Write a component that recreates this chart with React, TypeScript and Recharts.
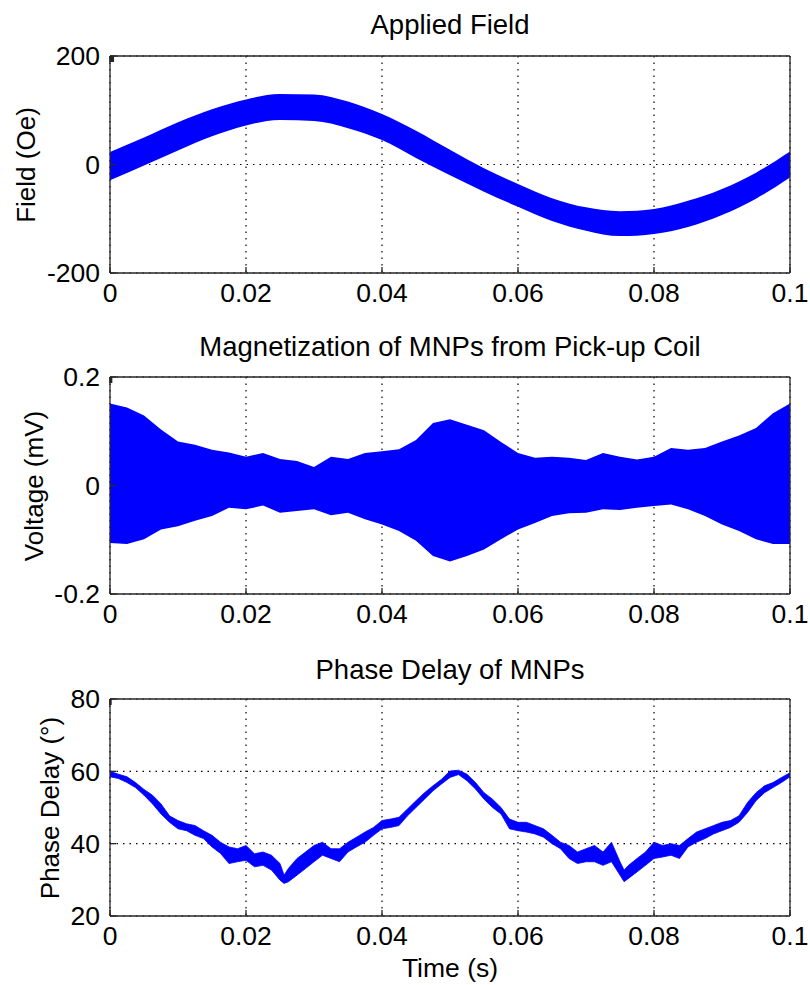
import React from "react";
import { ComposedChart, Area, XAxis, YAxis, CartesianGrid } from "recharts";

const FONT = "'Liberation Sans', Arial, Helvetica, sans-serif";
const BLUE = "#0000FF";
const BOX = "#262626";

const timeTicks = [0, 0.02, 0.04, 0.06, 0.08, 0.1];

// applied field: envelope of the thick band (Oe), every 5 ms
const fieldTime = [
    0, 0.005, 0.01, 0.015, 0.02, 0.025, 0.03, 0.035, 0.04, 0.045, 0.05,
    0.055, 0.06, 0.065, 0.07, 0.075, 0.08, 0.085, 0.09, 0.095, 0.1,
];
const fieldUpper = [
    23, 50, 78, 102, 120, 130, 129, 116, 93, 62, 27,
    -7, -36, -62, -79, -86, -82, -67, -45, -15, 24,
];
const fieldLower = [
    -29, -2, 26, 52, 72, 82, 80, 67, 45, 12, -20,
    -50, -78, -104, -122, -132, -128, -115, -93, -63, -24,
];
const fieldTicks = [-200, 0, 200];

// pick-up coil voltage envelope (mV), every 2.5 ms
const voltTime = [
    0, 0.0025, 0.005, 0.0075, 0.01, 0.0125, 0.015, 0.0175, 0.02, 0.0225,
    0.025, 0.0275, 0.03, 0.0325, 0.035, 0.0375, 0.04, 0.0425, 0.045, 0.0475,
    0.05, 0.0525, 0.055, 0.0575, 0.06, 0.0625, 0.065, 0.0675, 0.07, 0.0725,
    0.075, 0.0775, 0.08, 0.0825, 0.085, 0.0875, 0.09, 0.0925, 0.095, 0.0975, 0.1,
];
const voltUpper = [
    0.151, 0.144, 0.129, 0.103, 0.081, 0.075, 0.066, 0.061, 0.053, 0.06,
    0.049, 0.045, 0.034, 0.053, 0.049, 0.06, 0.063, 0.067, 0.084, 0.115,
    0.122, 0.112, 0.102, 0.08, 0.06, 0.051, 0.053, 0.051, 0.047, 0.06,
    0.053, 0.048, 0.053, 0.069, 0.066, 0.069, 0.081, 0.092, 0.106, 0.133, 0.151,
];
const voltLower = [
    -0.106, -0.108, -0.099, -0.081, -0.075, -0.065, -0.056, -0.041, -0.044, -0.037,
    -0.05, -0.047, -0.044, -0.055, -0.05, -0.062, -0.072, -0.084, -0.102, -0.13,
    -0.14, -0.13, -0.118, -0.099, -0.081, -0.069, -0.056, -0.051, -0.05, -0.044,
    -0.045, -0.041, -0.038, -0.035, -0.044, -0.056, -0.072, -0.084, -0.099, -0.108, -0.108,
];
const voltTicks = [-0.2, 0, 0.2];

// phase delay (deg): low / high of the noisy trace
const phaseTime = [
    0, 0.00125, 0.0025, 0.00375, 0.005, 0.00625, 0.0075, 0.00875, 0.01, 0.01125,
    0.0125, 0.01375, 0.015, 0.01625, 0.0175, 0.01875, 0.02, 0.02125, 0.0225, 0.02375,
    0.025, 0.0256, 0.02625, 0.0275, 0.02875, 0.03, 0.03125, 0.0325, 0.03375, 0.035,
    0.03625, 0.0375, 0.03875, 0.04, 0.04125, 0.0425, 0.04375, 0.045, 0.04625, 0.0475,
    0.04875, 0.05, 0.05125, 0.0525, 0.05375, 0.055, 0.05625, 0.0575, 0.05875, 0.06,
    0.06125, 0.0625, 0.06375, 0.065, 0.06625, 0.0675, 0.06875, 0.07, 0.07125, 0.0725,
    0.07375, 0.075, 0.0756, 0.07625, 0.0775, 0.07875, 0.08, 0.08125, 0.0825, 0.08375,
    0.085, 0.08625, 0.0875, 0.08875, 0.09, 0.09125, 0.0925, 0.09375, 0.095, 0.09625,
    0.0975, 0.09875, 0.1,
];
const phaseLow = [
    58.5, 58, 56.9, 55.5, 53.4, 51, 48.2, 45.9, 44.1, 43.6,
    42.3, 41.4, 39.1, 37.3, 34.5, 35, 35.4, 33.6, 34, 32.7,
    29.9, 29, 29.5, 31.3, 33.1, 35, 36.8, 35.9, 35, 37.7,
    39.1, 40.4, 42.3, 44.1, 44.5, 45, 47.7, 50, 52.3, 54.6,
    56.5, 58.3, 59.1, 57.4, 55.1, 52.3, 50, 48.2, 44.1, 43.6,
    43.2, 42.7, 41.8, 40, 38.6, 35.9, 34.5, 35, 35, 34,
    35, 31.3, 29.5, 30.4, 32.2, 34, 35.9, 36.3, 36.8, 35.9,
    39.1, 40.4, 41.4, 42.7, 43.6, 44.5, 45.9, 48.6, 51.9, 54.1,
    55.5, 56.9, 58.5,
];
const phaseHigh = [
    60, 59.2, 58.5, 56.9, 55, 53.4, 51, 47.7, 46.4, 45.5,
    45, 43.6, 42.3, 40.4, 39.1, 38.6, 39.5, 37.2, 37.7, 36.8,
    34.5, 31.3, 33.2, 35.9, 37.7, 39.5, 40.4, 38.6, 38.6, 40.4,
    41.8, 43.2, 44.5, 46.4, 46.8, 47.3, 49.6, 51.9, 54.1, 56,
    57.8, 60.1, 60.3, 59.2, 56.9, 54.1, 52.3, 50, 46.8, 45.9,
    45.9, 45, 44.1, 42.3, 40.4, 39.5, 37.7, 38.6, 39.5, 37.7,
    40.4, 35, 32.7, 34, 35.9, 37.7, 40.4, 39.5, 40, 39.5,
    41.4, 43.2, 44.1, 45, 45.9, 46.4, 47.7, 51.4, 54.1, 56,
    56.9, 58.3, 59.6,
];
const phaseTicks = [20, 40, 60, 80];

const toRows = (t: number[], lo: number[], hi: number[]) =>
    t.map((x, i) => ({ t: x, band: [lo[i], hi[i]] }));

const fmt = (v: number) => String(v);
const noTick = () => <g />;

const tickStyle = { fill: "#000", fontSize: 26.5, fontFamily: FONT };
const boxLine = { stroke: BOX, strokeWidth: 1.3 };

interface PanelProps {
    plotTop: number;
    rows: Array<{ t: number; band: number[] }>;
    yTicks: number[];
    curve?: "linear" | "monotone";
    outline?: boolean;
}

function Panel({ plotTop, rows, yTicks, curve = "linear", outline = false }: PanelProps) {
    const domain = [yTicks[0], yTicks[yTicks.length - 1]];
    return (
        <div style={{ position: "absolute", left: 0, top: plotTop - 22 }}>
            <ComposedChart
                width={810}
                height={279}
                data={rows}
                margin={{ top: 21, right: 19, bottom: 0, left: 0 }}
            >
                <CartesianGrid stroke="#000" strokeWidth={1.2} strokeDasharray="1.5 5" />
                <XAxis
                    dataKey="t"
                    type="number"
                    domain={[0, 0.1]}
                    ticks={timeTicks}
                    interval={0}
                    tickFormatter={fmt}
                    tick={tickStyle}
                    tickSize={-6}
                    tickMargin={16.5}
                    axisLine={boxLine}
                    tickLine={boxLine}
                    height={40}
                />
                <XAxis
                    xAxisId="top"
                    orientation="top"
                    type="number"
                    domain={[0, 0.1]}
                    ticks={timeTicks}
                    interval={0}
                    tick={noTick}
                    tickSize={-6}
                    axisLine={boxLine}
                    tickLine={boxLine}
                    height={1}
                />
                <YAxis
                    type="number"
                    domain={domain}
                    ticks={yTicks}
                    interval={0}
                    tickFormatter={fmt}
                    tick={tickStyle}
                    tickSize={-6}
                    tickMargin={16}
                    axisLine={boxLine}
                    tickLine={boxLine}
                    width={110}
                />
                <YAxis
                    yAxisId="right"
                    orientation="right"
                    type="number"
                    domain={domain}
                    ticks={yTicks}
                    interval={0}
                    tick={noTick}
                    tickSize={-6}
                    axisLine={boxLine}
                    tickLine={boxLine}
                    width={1}
                />
                <Area
                    dataKey="band"
                    type={curve}
                    stroke={outline ? BLUE : "none"}
                    strokeWidth={0.8}
                    fill={BLUE}
                    fillOpacity={1}
                    isAnimationActive={false}
                />
            </ComposedChart>
        </div>
    );
}

const textBase: React.CSSProperties = {
    position: "absolute",
    fontFamily: FONT,
    color: "#000",
    whiteSpace: "nowrap",
    lineHeight: 1,
};

function Title({ text, capY, size = 27.5 }: { text: string; capY: number; size?: number }) {
    return (
        <div style={{ ...textBase, fontSize: size, left: 450, top: capY - size * 0.49, transform: "translateX(-50%)" }}>
            {text}
        </div>
    );
}

function YLabel({ text, cx, cy }: { text: string; cx: number; cy: number }) {
    return (
        <div
            style={{
                ...textBase,
                fontSize: 26,
                left: cx,
                top: cy,
                transform: "translate(-50%, -50%) rotate(-90deg)",
            }}
        >
            {text}
        </div>
    );
}

export default function App() {
    return (
        <div
            style={{
                position: "absolute",
                left: 0,
                top: 0,
                width: 810,
                height: 985,
                background: "#fff",
                overflow: "hidden",
            }}
        >
            <Panel plotTop={56} rows={toRows(fieldTime, fieldLower, fieldUpper)} yTicks={fieldTicks} curve="monotone" />
            <Panel plotTop={377} rows={toRows(voltTime, voltLower, voltUpper)} yTicks={voltTicks} />
            <Panel plotTop={699} rows={toRows(phaseTime, phaseLow, phaseHigh)} yTicks={phaseTicks} outline />

            <Title text="Applied Field" capY={24.7} />
            <Title text="Magnetization of MNPs from Pick-up Coil" capY={346} />
            <Title text="Phase Delay of MNPs" capY={669} />
            <Title text="Time (s)" capY={968} size={26.5} />

            <YLabel text="Field (Oe)" cx={26} cy={165} />
            <YLabel text="Voltage (mV)" cx={34} cy={486} />
            <YLabel text="Phase Delay (°)" cx={50} cy={808} />
        </div>
    );
}
